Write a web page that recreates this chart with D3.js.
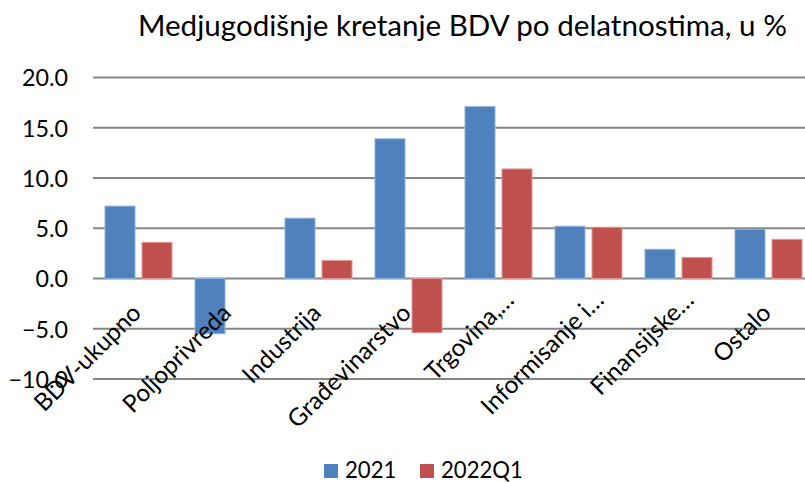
<!DOCTYPE html>
<html>
<head>
<meta charset="utf-8">
<script src="https://cdn.jsdelivr.net/npm/d3@7"></script>
<style>
  html, body { margin: 0; padding: 0; background: #fff; }
  svg { display: block; }
  text { font-family: Lato, "Open Sans", sans-serif; fill: #000; }
</style>
</head>
<body>
<svg id="chart" width="805" height="482"></svg>
<script>
const title = "Medjugodišnje kretanje BDV po delatnostima, u %";
const categories = ["BDV-ukupno", "Poljoprivreda", "Industrija", "Građevinarstvo", "Trgovina,…", "Informisanje i…", "Finansijske…", "Ostalo"];
const seriesNames = ["2021", "2022Q1"];
const values2021 = [7.2, -5.5, 6.0, 13.9, 17.1, 5.2, 2.9, 4.9];
const values2022Q1 = [3.6, null, 1.8, -5.4, 10.9, 5.1, 2.1, 3.9];
const yTicks = [-10, -5, 0, 5, 10, 15, 20];
const colors = ["#4F81BD", "#C0504D"];

const svg = d3.select("#chart");
const W = 805, H = 482;

// font size that makes `str` span `target` px
function fitSize(str, target) {
  const t = svg.append("text").attr("font-size", 100).text(str);
  const len = t.node().getComputedTextLength();
  t.remove();
  return 100 * target / len;
}
const tickSize = fitSize("20.0", 46);
const labelSize = fitSize("Poljoprivreda", 141);
const legendSize = fitSize("2022Q1", 82);
const titleSize = fitSize(title, 649);

const x0 = d3.scaleBand().domain(categories).range([93.5, 813.5]).padding(0);
const x1 = d3.scaleBand().domain(seriesNames)
  .range([11.5, x0.bandwidth() - 11.5]).paddingInner(7 / 37).paddingOuter(0);
const y = d3.scaleLinear().domain([-10, 20]).range([379, 77.5]);

// gridlines
const grid = svg.append("g");
grid.selectAll("line").data(yTicks).join("line")
  .attr("x1", 93).attr("x2", W)
  .attr("y1", d => y(d)).attr("y2", d => y(d))
  .attr("stroke", "#868686").attr("stroke-width", 2);

// y axis labels
const yAxis = d3.axisLeft(y).tickValues(yTicks).tickFormat(d3.format(".1f")).tickSize(0).tickPadding(0);
const yg = svg.append("g").attr("transform", "translate(68,0)").call(yAxis);
yg.select(".domain").remove();
yg.selectAll("text").attr("font-size", tickSize).attr("font-family", "Lato, sans-serif").attr("fill", "#000").attr("dy", "0.36em");

// bars
const series = [values2021, values2022Q1];
const groups = svg.append("g").selectAll("g").data(categories).join("g")
  .attr("transform", d => `translate(${x0(d)},0)`);
groups.selectAll("rect")
  .data((c, i) => seriesNames.map((s, k) => ({ s, k, v: series[k][i] })).filter(d => d.v !== null))
  .join("rect")
  .attr("x", d => x1(d.s))
  .attr("width", x1.bandwidth())
  .attr("y", d => y(Math.max(0, d.v)))
  .attr("height", d => Math.abs(y(d.v) - y(0)))
  .attr("fill", d => colors[d.k])
  .attr("stroke", d => d.k === 0 ? "#8fb0d8" : "#e09a98")
  .attr("stroke-width", 1);

// x labels (rotated -45, end anchored; truncated labels sit a bit further out)
const xl = svg.append("g");
xl.selectAll("text").data(categories).join("text")
  .attr("transform", d => {
    const ell = d.endsWith("…") ? 13 : 0;
    return `translate(${x0(d) + x0.bandwidth() / 2 + 4 + ell},${y(0) + 36 - ell}) rotate(-45)`;
  })
  .attr("text-anchor", "end")
  .attr("font-size", labelSize)
  .text(d => d);

// title
svg.append("text").attr("x", 138).attr("y", 36)
  .attr("font-size", titleSize).text(title);

// legend
const legend = svg.append("g").attr("transform", "translate(0,470)");
const legendItems = [{ name: seriesNames[0], x: 324 }, { name: seriesNames[1], x: 420 }];
legendItems.forEach((d, k) => {
  legend.append("rect").attr("x", d.x).attr("y", -6).attr("width", 14).attr("height", 14).attr("fill", colors[k]);
  legend.append("text").attr("x", d.x + 21).attr("y", 0).attr("dy", "0.36em").attr("font-size", legendSize).text(d.name);
});
</script>
</body>
</html>
